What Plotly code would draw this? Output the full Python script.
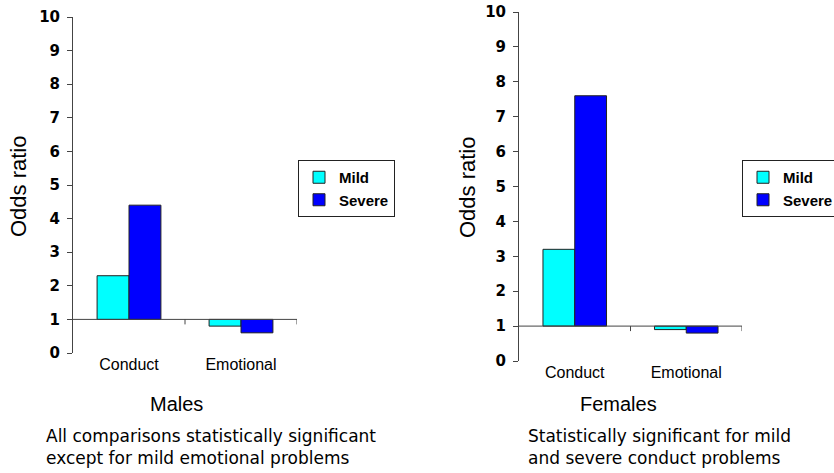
import plotly.graph_objects as go

categories = ["Conduct", "Emotional"]
males_mild = [2.3, 0.8]
males_severe = [4.4, 0.6]
females_mild = [3.2, 0.9]
females_severe = [7.6, 0.8]
y_ticks = list(range(0, 11))
baseline = 1.0

W, H = 834, 473
CYAN = "#00FFFF"
BLUE = "#0000FF"
TICKFONT = dict(family="DejaVu Sans, Verdana, sans-serif", size=15, color="black", weight="bold")
CATFONT = dict(family="Arial, Liberation Sans, sans-serif", size=16, color="black")
LEGFONT = dict(family="Arial, Liberation Sans, sans-serif", size=15, color="black", weight="bold")


def px_x(p):
    return p / W


def px_y(p):
    return 1 - p / H


fig = go.Figure()

panels = [
    ("x", "y", "legend", males_mild, males_severe),
    ("x2", "y2", "legend2", females_mild, females_severe),
]
for xa, ya, leg, mild, severe in panels:
    fig.add_trace(go.Bar(
        x=categories, y=[v - baseline for v in mild], base=baseline,
        name="Mild", marker=dict(color=CYAN, line=dict(color="#222", width=1)),
        xaxis=xa, yaxis=ya, legend=leg,
    ))
    fig.add_trace(go.Bar(
        x=categories, y=[v - baseline for v in severe], base=baseline,
        name="Severe", marker=dict(color=BLUE, line=dict(color="#222", width=1)),
        xaxis=xa, yaxis=ya, legend=leg,
    ))

axis_common_y = dict(
    range=[0, 10], tickvals=y_ticks, ticks="outside", ticklen=5, tickwidth=1,
    tickcolor="#444", showline=True, linecolor="#444", linewidth=1,
    showgrid=False, zeroline=False, tickfont=TICKFONT, fixedrange=True,
    ticklabelstandoff=4,
)
axis_common_x = dict(
    showline=False, showgrid=False, zeroline=False, ticks="",
    tickfont=CATFONT, range=[-0.5, 1.5],
)

fig.update_layout(
    width=W, height=H,
    margin=dict(l=0, r=0, t=0, b=0, autoexpand=False),
    paper_bgcolor="white", plot_bgcolor="white",
    barmode="group", bargap=0.43, bargroupgap=0,
    showlegend=True,
    xaxis=dict(domain=[px_x(73), px_x(297)], anchor="y", **axis_common_x),
    yaxis=dict(domain=[px_y(353), px_y(17)], anchor="x", **axis_common_y),
    xaxis2=dict(domain=[px_x(519), px_x(742)], anchor="y2", **axis_common_x),
    yaxis2=dict(domain=[px_y(361), px_y(12)], anchor="x2", **axis_common_y),
    legend=dict(x=px_x(298), y=px_y(160), xanchor="left", yanchor="top",
                bordercolor="#222", borderwidth=1, bgcolor="white",
                font=LEGFONT, itemwidth=30, tracegroupgap=0),
    legend2=dict(x=px_x(742), y=px_y(160), xanchor="left", yanchor="top",
                 bordercolor="#222", borderwidth=1, bgcolor="white",
                 font=LEGFONT, itemwidth=30, tracegroupgap=0),
)

# baseline (odds ratio = 1) lines and category tick marks
for xa, ya in [("x", "y"), ("x2", "y2")]:
    fig.add_shape(type="line", xref=f"{xa} domain", yref=ya, x0=0, x1=1,
                  y0=baseline, y1=baseline, line=dict(color="#444", width=1))
    for xv in [0.5, 1.5]:
        fig.add_shape(type="line", xref=xa, yref=ya, ysizemode="pixel",
                      yanchor=baseline, x0=xv, x1=xv, y0=0, y1=-5,
                      line=dict(color="#444", width=1))

TITLEFONT = dict(family="Arial, Liberation Sans, sans-serif", size=22, color="black")
annotations = [
    dict(text="Odds ratio", x=px_x(18), y=px_y(186), textangle=-90, font=TITLEFONT),
    dict(text="Odds ratio", x=px_x(467), y=px_y(187), textangle=-90, font=TITLEFONT),
    dict(text="Males", x=px_x(176), y=px_y(404), font=dict(family="Arial, Liberation Sans, sans-serif", size=20, color="black")),
    dict(text="Females", x=px_x(618), y=px_y(404), font=dict(family="Arial, Liberation Sans, sans-serif", size=20, color="black")),
    dict(text="All comparisons statistically significant<br>except for mild emotional problems",
         x=px_x(44), y=px_y(447), xanchor="left", align="left",
         font=dict(family="DejaVu Sans, Verdana, sans-serif", size=17, color="black")),
    dict(text="Statistically significant for mild<br>and severe conduct problems",
         x=px_x(526), y=px_y(447), xanchor="left", align="left",
         font=dict(family="DejaVu Sans, Verdana, sans-serif", size=17, color="black")),
]
for a in annotations:
    a.setdefault("xanchor", "center")
    a.setdefault("yanchor", "middle")
    fig.add_annotation(xref="paper", yref="paper", showarrow=False, **a)

fig.write_html("out.html")
